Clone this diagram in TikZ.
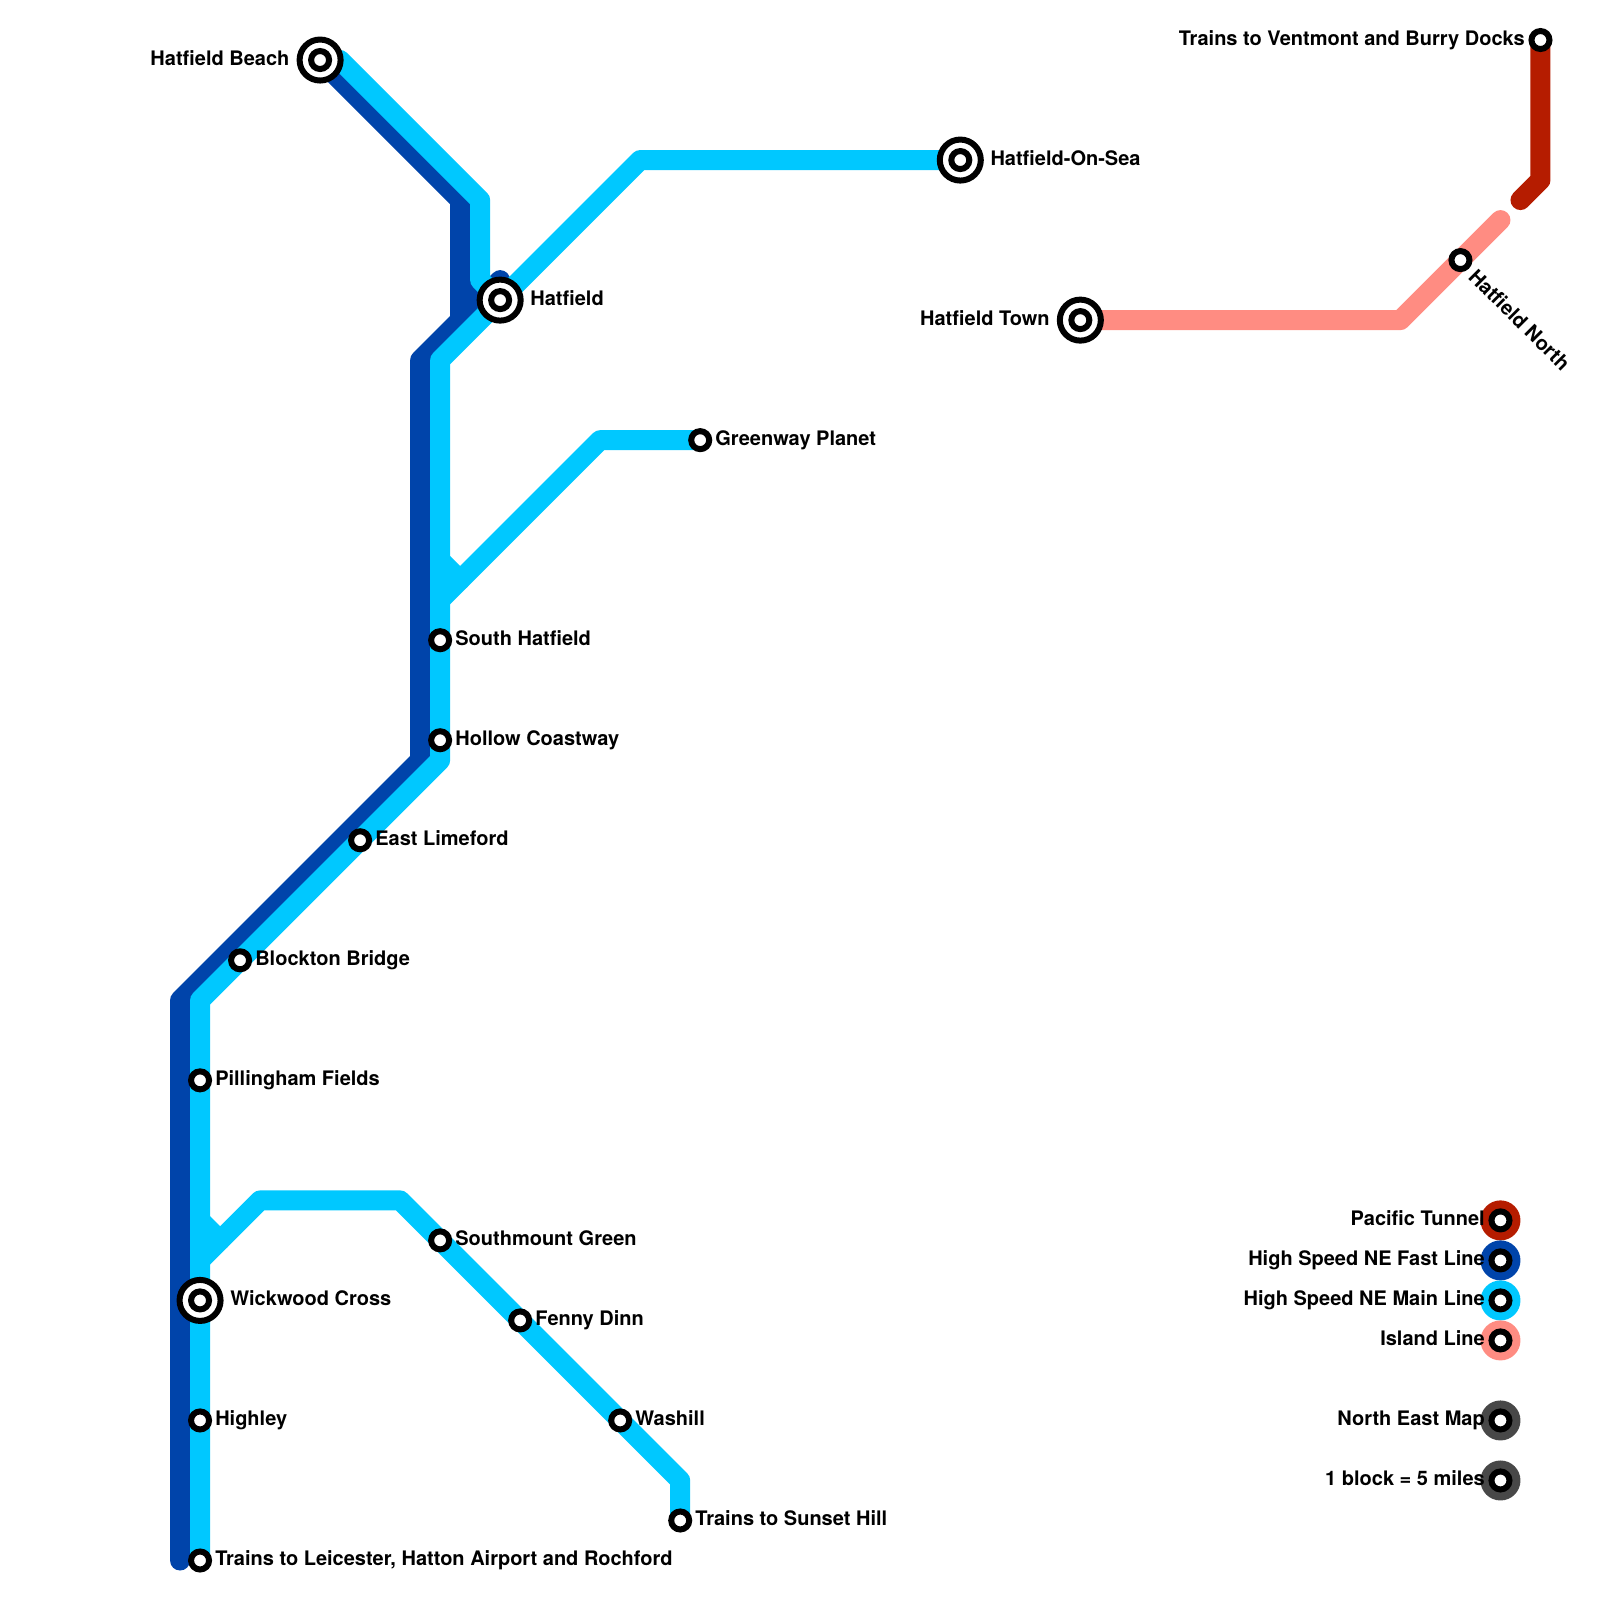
\documentclass[tikz,border=0pt]{standalone}
\usepackage{fontspec}
\setmainfont{TeX Gyre Heros}
\usepackage{xcolor}
\usetikzlibrary{backgrounds}
\definecolor{pacificred}{RGB}{181,28,0}
\definecolor{fastblue}{RGB}{0,68,170}
\definecolor{mainblue}{RGB}{0,200,255}
\definecolor{islandpink}{RGB}{255,140,130}
\definecolor{keygrey}{RGB}{72,72,72}

\begin{document}
\begin{tikzpicture}[
  x=0.1mm, y=-0.1mm,
  % ── node styles ──────────────────────────────────────────────────────────
  stop/.style={
    draw=black, line width=0.6mm, fill=white,
    circle, inner sep=0pt, minimum size=1.8mm
  },
  bigstop/.style={
    draw=black, line width=0.6mm, fill=white,
    circle, inner sep=0pt, minimum size=4.1mm
  },
  lbl/.style={
    font=\bfseries\fontsize{5.69pt}{6.8pt}\selectfont,
    text=black, inner sep=0pt
  },
  % plain route lines (no arrowhead)
  route/.style={
    line width=2mm, line cap=round, line join=round
  },
  keydot/.style={
    circle, inner sep=0pt, minimum size=4mm
  },
]

\useasboundingbox (0,0) rectangle (1599.5,1599.5);

% ── Interchanges ────────────────────────────────────────────────────────────
\foreach \nd/\px/\py in {Beach/320/60, Hatfield/500/300, Sea/960/160,
                         Town/1080/320, Wickwood/200/1300}{
  \node[bigstop] (\nd) at (\px,\py) {};
  \node[stop]    (\nd In) at (\nd.center) {};
}

% ── Plain stations ──────────────────────────────────────────────────────────
\foreach \nd/\px/\py in {Greenway/700/440, SouthH/440/640, Hollow/440/740,
                         Limeford/360/840, Blockton/240/960, Pillingham/200/1080,
                         Southmount/440/1240, Fenny/520/1320, Washill/620/1420,
                         Highley/200/1420, Sunset/680/1520, Leicester/200/1560,
                         Ventmont/1540/40, North/1460/260}{
  \node[stop] (\nd) at (\px,\py) {};
}

% ── Bends and free ends ─────────────────────────────────────────────────────
\coordinate (f1) at (460,200);
\coordinate (f2) at (460,320);
\coordinate (f3) at (500,280);
\coordinate (f4) at (420,360);
\coordinate (f5) at (420,760);
\coordinate (f6) at (180,1000);
\coordinate (f7) at (180,1560);
\coordinate (f8) at (470,280);
\coordinate (m1) at (340,60);
\coordinate (m2) at (480,200);
\coordinate (m3) at (480,280);
\coordinate (m4) at (640,160);
\coordinate (m5) at (440,360);
\coordinate (m6) at (440,760);
\coordinate (m7) at (200,1000);
\coordinate (g1) at (440,560);
\coordinate (g2) at (460,580);
\coordinate (g3) at (440,600);
\coordinate (g4) at (600,440);
\coordinate (w1) at (200,1220);
\coordinate (w2) at (220,1240);
\coordinate (w3) at (200,1260);
\coordinate (w4) at (260,1200);
\coordinate (w5) at (400,1200);
\coordinate (w6) at (680,1480);
\coordinate (i1) at (1400,320);
\coordinate (i2) at (1500,220);
\coordinate (p1) at (1540,180);
\coordinate (p2) at (1520,200);

% ── Routes ──────────────────────────────────────────────────────────────────
\begin{scope}[on background layer]
  \draw[route, fastblue] (Beach.center) -- (f1) -- (f2) -- (f3);
  \fill[fastblue] (f8) -- (Hatfield.center) -- (f2) -- cycle;
  \draw[route, fastblue] (f2) -- (f4) -- (f5) -- (f6) -- (f7);
  \draw[route, mainblue] (m1) -- (m2) -- (m3) -- (Hatfield.center);
  \draw[route, mainblue] (Sea.center) -- (m4) -- (m5) -- (m6) -- (m7) -- (Leicester.center);
  \draw[route, mainblue] (g1) -- (g2) -- (g3);
  \draw[route, mainblue] (g2) -- (g4) -- (Greenway.center);
  \draw[route, mainblue] (w1) -- (w2) -- (w3);
  \draw[route, mainblue] (w2) -- (w4) -- (w5) -- (w6) -- (Sunset.center);
  \draw[route, islandpink] (Town.center) -- (i1) -- (i2);
  \draw[route, pacificred] (Ventmont.center) -- (p1) -- (p2);
\end{scope}

% ── Labels right of the stops ───────────────────────────────────────────────
\foreach \nd/\txt in {Greenway/Greenway Planet, SouthH/South Hatfield,
                      Hollow/Hollow Coastway, Limeford/East Limeford,
                      Blockton/Blockton Bridge, Pillingham/Pillingham Fields,
                      Southmount/Southmount Green, Fenny/Fenny Dinn,
                      Washill/Washill, Highley/Highley, Sunset/Trains to Sunset Hill,
                      Leicester/{Trains to Leicester, Hatton Airport and Rochford}}{
  \node[lbl, anchor=base west] (\nd Lbl) at ([xshift=1.45mm,yshift=-0.5mm]\nd.center) {\txt};
}
\foreach \nd/\txt in {Hatfield/Hatfield, Sea/Hatfield-On-Sea, Wickwood/Wickwood Cross}{
  \node[lbl, anchor=base west] (\nd Lbl) at ([xshift=2.95mm,yshift=-0.5mm]\nd.center) {\txt};
}

% ── Labels left of the stops ────────────────────────────────────────────────
\node[lbl, anchor=base east] (BeachLbl) at ([xshift=-3mm,yshift=-0.5mm]Beach.center) {Hatfield Beach};
\node[lbl, anchor=base east] (TownLbl) at ([xshift=-3mm,yshift=-0.5mm]Town.center) {Hatfield Town};
\node[lbl, anchor=base east] (VentmontLbl) at ([xshift=-1.5mm,yshift=-0.5mm]Ventmont.center) {Trains to Ventmont and Burry Docks};
\node[lbl, anchor=base west, rotate=-45] (NorthLbl) at ([xshift=0.65mm,yshift=-1.75mm]North.center) {Hatfield North};

% ── Key ─────────────────────────────────────────────────────────────────────
\foreach \nd/\py/\col/\txt in {KeyPacific/1220/pacificred/Pacific Tunnel,
                               KeyFast/1260/fastblue/High Speed NE Fast Line,
                               KeyMain/1300/mainblue/High Speed NE Main Line,
                               KeyIsland/1340/islandpink/Island Line,
                               KeyMap/1420/keygrey/North East Map,
                               KeyScale/1480/keygrey/1 block = 5 miles}{
  \node[keydot, fill=\col] (\nd) at (1500,\py) {};
  \node[stop] (\nd In) at (\nd.center) {};
  \node[lbl, anchor=base east] (\nd Lbl) at ([xshift=-1.5mm,yshift=-0.5mm]\nd.center) {\txt};
}

\end{tikzpicture}
\end{document}
